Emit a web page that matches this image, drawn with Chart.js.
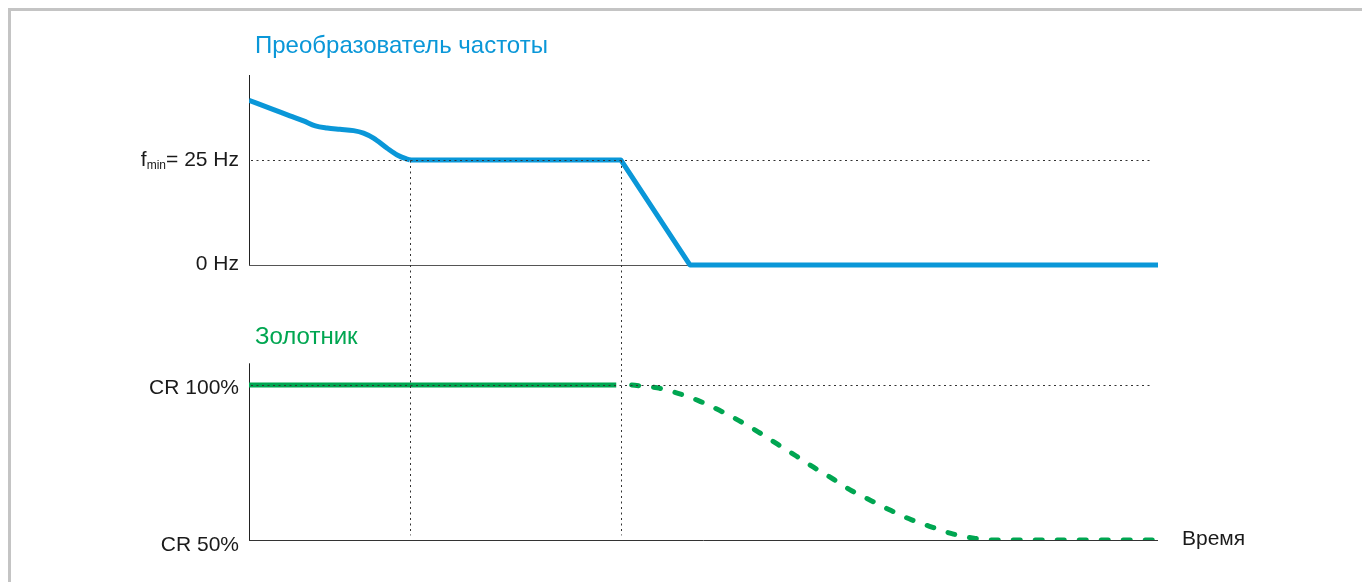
<!DOCTYPE html>
<html lang="ru">
<head>
<meta charset="UTF-8">
<title>Преобразователь частоты и золотник</title>
<script src="https://cdn.jsdelivr.net/npm/chart.js"></script>
<style>
  body { margin: 0; background: #fff; }
  #marco {
    position: absolute; left: 8px; top: 8px; width: 1354px; height: 574px;
    border-top: 3px solid #c4c4c4; border-left: 3px solid #c4c4c4; box-sizing: border-box;
  }
  #contenedor { position: absolute; left: 0; top: 0; width: 1362px; height: 582px; }
</style>
</head>
<body>
<div id="marco"></div>
<div id="contenedor"><canvas id="grafico"></canvas></div>
<script>
// tiempo en unidades arbitrarias (0..100)
// arranque: la frecuencia baja suavemente hasta f_min
const tiempoArranque = [0, 2.7, 4.5, 6.0, 7.3, 8.6, 10.0, 11.5, 12.6, 13.7, 15.2, 16.3, 17.4, 17.7];
const hzArranque =     [39.2, 37.0, 35.5, 34.3, 33.1, 32.6, 32.3, 32.0, 31.4, 30.2, 27.8, 26.2, 25.2, 25];
// mantenimiento en f_min y parada en rampa
const tiempoParada = [17.7, 40.9, 48.5, 100];
const hzParada =     [25, 25, 0, 0];

const tiempoSolido = [0, 40.4];
const crSolido = [100, 100];

const tiempoCurva = [42.1, 44.9, 47.2, 49.5, 51.7, 53.9, 56.0, 58.1, 60.2, 62.1, 64.3, 66.3, 68.5, 70.7, 72.9, 75.3, 77.5, 79.9, 82.3, 100];
const crCurva =     [100, 99.1, 97.3, 94.9, 91.9, 88.5, 84.9, 81.0, 77.1, 73.5, 69.6, 65.9, 62.6, 59.4, 56.5, 54.0, 51.9, 50.5, 50, 50];

const marcasTiempo = [17.7, 40.9];
const ticksHz = [0, 25];
const ticksCR = [50, 100];
const etiquetasCR = ['CR 50%', 'CR 100%'];

const AZUL = '#0a97d8';
const VERDE = '#00a651';
const FUENTE = '"Liberation Sans", Arial, sans-serif';

function puntos(xs, ys) {
  return xs.map((x, i) => ({ x: x, y: ys[i] }));
}

const dibujoEjes = {
  id: 'dibujoEjes',
  beforeDatasetsDraw(chart) {
    const ctx = chart.ctx;
    const x = chart.scales.x, yF = chart.scales.yF, yC = chart.scales.yC;
    const izq = x.getPixelForValue(0), der = x.getPixelForValue(100);
    ctx.save();
    ctx.lineWidth = 1;
    ctx.strokeStyle = '#222';
    ctx.beginPath();
    // panel superior
    ctx.moveTo(izq + 0.5, chart.chartArea.top);
    ctx.lineTo(izq + 0.5, yF.getPixelForValue(0));
    // panel inferior
    ctx.moveTo(izq + 0.5, yC.getPixelForValue(107));
    ctx.lineTo(izq + 0.5, yC.getPixelForValue(50));
    ctx.stroke();
    ctx.strokeStyle = '#555';
    ctx.beginPath();
    ctx.moveTo(izq, Math.round(yF.getPixelForValue(0)) + 0.5);
    ctx.lineTo(der, Math.round(yF.getPixelForValue(0)) + 0.5);
    ctx.stroke();
    ctx.strokeStyle = '#333';
    ctx.beginPath();
    ctx.moveTo(izq, Math.round(yC.getPixelForValue(50)) + 0.5);
    ctx.lineTo(der, Math.round(yC.getPixelForValue(50)) + 0.5);
    ctx.stroke();
    ctx.restore();
  },
  afterDatasetsDraw(chart) {
    const ctx = chart.ctx;
    const x = chart.scales.x, yF = chart.scales.yF, yC = chart.scales.yC;
    const izq = x.getPixelForValue(0), finGuia = x.getPixelForValue(99.2);
    ctx.save();

    // guías punteadas
    ctx.strokeStyle = '#333';
    ctx.lineWidth = 1;
    ctx.setLineDash([2, 3.5]);
    ctx.beginPath();
    const y25 = Math.round(yF.getPixelForValue(25)) + 0.5;
    const y100 = Math.round(yC.getPixelForValue(100)) + 0.5;
    ctx.moveTo(izq + 2, y25); ctx.lineTo(finGuia, y25);
    ctx.moveTo(izq + 2, y100); ctx.lineTo(finGuia, y100);
    marcasTiempo.forEach(t => {
      const px = Math.round(x.getPixelForValue(t)) + 0.5;
      ctx.moveTo(px, y25);
      ctx.lineTo(px, yC.getPixelForValue(51.5));
    });
    ctx.stroke();
    ctx.setLineDash([]);

    // etiquetas del eje de frecuencia
    ctx.fillStyle = '#1a1a1a';
    ctx.textBaseline = 'middle';
    ctx.textAlign = 'right';
    ctx.font = '21px ' + FUENTE;
    const xt = izq - 10;
    ctx.fillText('0 Hz', xt, yF.getPixelForValue(ticksHz[0]) - 1);
    const yMin = yF.getPixelForValue(ticksHz[1]);
    const resto = '= ' + ticksHz[1] + ' Hz';
    ctx.fillText(resto, xt, yMin);
    let xs = xt - ctx.measureText(resto).width;
    ctx.font = '12px ' + FUENTE;
    ctx.fillText('min', xs, yMin + 6);
    xs -= ctx.measureText('min').width;
    ctx.font = '21px ' + FUENTE;
    ctx.fillText('f', xs, yMin);

    // etiquetas del eje del golpe (CR)
    ticksCR.forEach((v, i) => {
      ctx.fillText(etiquetasCR[i], xt, yC.getPixelForValue(v) + (v === 50 ? 5 : 3));
    });

    ctx.textAlign = 'left';
    ctx.fillText('Время', x.getPixelForValue(100) + 24, yC.getPixelForValue(50) - 1);

    // títulos de los paneles
    ctx.font = '24px ' + FUENTE;
    ctx.fillStyle = AZUL;
    ctx.fillText('Преобразователь частоты', izq + 6, chart.chartArea.top - 29);
    ctx.fillStyle = VERDE;
    ctx.fillText('Золотник', izq + 6, yC.getPixelForValue(107) - 26);
    ctx.restore();
  }
};

const lineaBase = {
  borderWidth: 5,
  pointRadius: 0
};

new Chart(document.getElementById('grafico'), {
  type: 'line',
  data: {
    datasets: [
      Object.assign({}, lineaBase, {
        data: puntos(tiempoArranque, hzArranque),
        yAxisID: 'yF',
        borderColor: AZUL,
        borderCapStyle: 'butt',
        cubicInterpolationMode: 'monotone'
      }),
      Object.assign({}, lineaBase, {
        data: puntos(tiempoParada, hzParada),
        yAxisID: 'yF',
        borderColor: AZUL,
        borderCapStyle: 'butt',
        borderJoinStyle: 'round',
        tension: 0
      }),
      Object.assign({}, lineaBase, {
        data: puntos(tiempoSolido, crSolido),
        yAxisID: 'yC',
        borderColor: VERDE,
        borderCapStyle: 'butt'
      }),
      Object.assign({}, lineaBase, {
        data: puntos(tiempoCurva, crCurva),
        yAxisID: 'yC',
        borderColor: VERDE,
        borderDash: [7, 15],
        borderCapStyle: 'round',
        cubicInterpolationMode: 'monotone'
      })
    ]
  },
  options: {
    responsive: true,
    maintainAspectRatio: false,
    animation: false,
    layout: { padding: { left: 249, right: 204, top: 75, bottom: 42 } },
    plugins: { legend: { display: false }, tooltip: { enabled: false } },
    scales: {
      x: { type: 'linear', min: 0, max: 100, display: false },
      yF: { type: 'linear', min: -65.5, max: 45.24, display: false },
      yC: { type: 'linear', min: 50, max: 200, display: false }
    }
  },
  plugins: [dibujoEjes]
});
</script>
</body>
</html>
